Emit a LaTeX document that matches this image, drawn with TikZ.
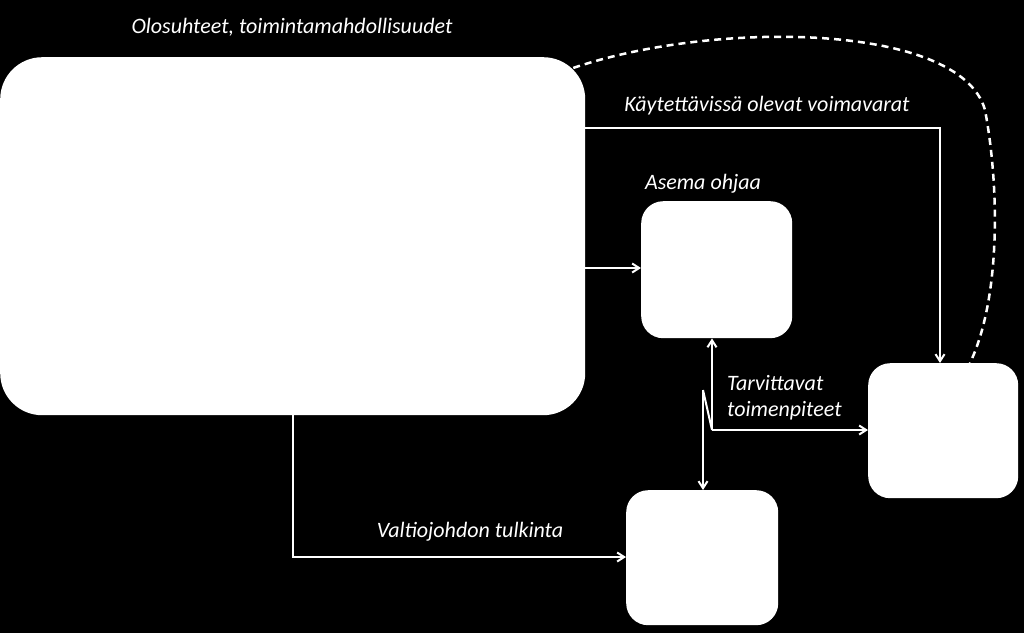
\documentclass[tikz,border=0pt]{standalone}
\usepackage{fontspec}
\setmainfont{Carlito}
\usetikzlibrary{arrows.meta}
\begin{document}
\begin{tikzpicture}[x=1pt,y=-1pt,
  box/.style={fill=white,rounded corners=#1},
  conn/.style={white,line width=2pt,-{Straight Barb[length=7pt,width=9pt]}},
  lbl/.style={text=white,font=\itshape\fontsize{22}{26}\selectfont}]
\fill[black] (0,0) rectangle (1024,633);
\useasboundingbox (0,0) rectangle (1024,633);
\node[box=42pt,minimum width=585pt,minimum height=358pt,inner sep=0,anchor=north west] (big) at (0,57) {};
\node[box=22pt,minimum width=151pt,minimum height=137pt,inner sep=0,anchor=north west] (asema) at (641,201) {};
\node[box=22pt,minimum width=150pt,minimum height=135pt,inner sep=0,anchor=north west] (right) at (868,363) {};
\node[box=22pt,minimum width=152pt,minimum height=135pt,inner sep=0,anchor=north west] (bottom) at (626,490) {};
\node[lbl] (l1) at (292,27) {Olosuhteet, toimintamahdollisuudet};
\node[lbl] (l2) at (767,106) {Käytettävissä olevat voimavarat};
\node[lbl] (l3) at (703,184) {Asema ohjaa};
\node[lbl,anchor=west,align=left,inner sep=0] (l4) at (727,398) {Tarvittavat\\toimenpiteet};
\node[lbl] (l5) at (470,532) {Valtiojohdon tulkinta};
\coordinate (j) at (712,430);
\coordinate (z) at (703,390);
\draw[conn] (big.east |- 0,128) -- (940,128) -- (right.north -| 940,0);
\draw[conn] (big.east |- 0,268) -- (asema.west |- 0,268);
\draw[conn] (big.south -| 293,0) -- (293,557) -- (bottom.west |- 0,557);
\draw[conn] (j) -- (asema.south -| j);
\draw[conn] (j) -- (right.west |- j);
\draw[white,line width=2pt] (j) -- (z);
\draw[conn] (z) -- (bottom.north -| z);
\draw[white,line width=2.5pt,dashed,dash pattern=on 7pt off 5pt] (562,72) .. controls (700,20) and (960,20) .. (985,110) .. controls (1000,190) and (1000,300) .. (970,363);
\end{tikzpicture}
\end{document}
